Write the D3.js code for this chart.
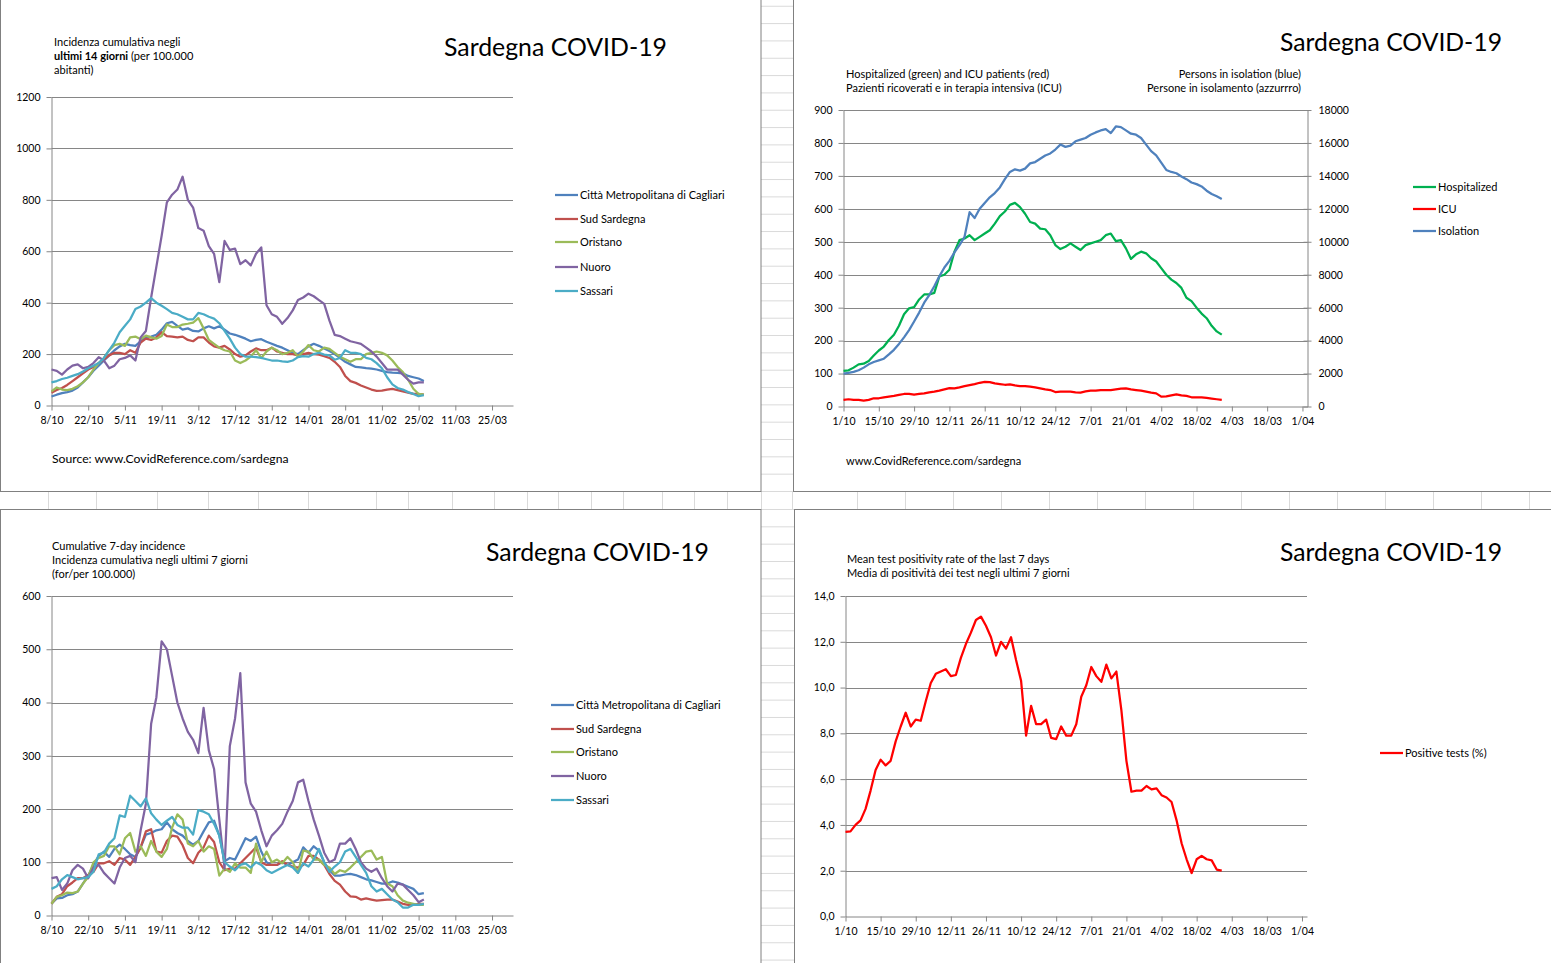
<!DOCTYPE html>
<html>
<head>
<meta charset="utf-8">
<script src="https://cdn.jsdelivr.net/npm/d3@7"></script>
<style>
  body { margin: 0; background: #fff; }
  svg { display: block; }
  text { font-family: Lato, "Open Sans", sans-serif; fill: #000; }
</style>
</head>
<body>
<svg id="main" width="1551" height="963"></svg>
<script>
// ---- data (every 2nd day) ----
var STEP = 2;
var startA = new Date(2020, 9, 8);   // 8/10 - incidence charts
var startB = new Date(2020, 9, 1);   // 1/10 - hospital / positivity charts

var ticksA = ["8/10","22/10","5/11","19/11","3/12","17/12","31/12","14/01","28/01","11/02","25/02","11/03","25/03"];
var ticksB = ["1/10","15/10","29/10","12/11","26/11","10/12","24/12","7/01","21/01","4/02","18/02","4/03","18/03","1/04"];

var provinces = ["Città Metropolitana di Cagliari", "Sud Sardegna", "Oristano", "Nuoro", "Sassari"];
var provColors = ["#4F81BD", "#C0504D", "#9BBB59", "#8064A2", "#4BACC6"];

// 14-day cumulative incidence per 100.000
var cagliari14 = [35,42,48,52,58,70,90,110,135,155, 175,195,215,230,240,235,232,250,265,268,
  275,295,320,325,310,295,300,290,288,300, 308,300,308,295,280,275,268,260,250,255,
  258,248,240,232,225,215,205,200,215,230, 240,232,222,212,200,185,170,160,150,148,
  145,143,140,135,130,128,127,125,115,110, 105,95];
var sud14 = [50,60,68,80,95,110,125,140,150,165, 180,195,205,205,200,215,205,245,260,255,
  265,285,270,268,265,268,255,250,265,265, 245,230,225,232,218,200,190,195,210,222,
  215,215,225,210,205,200,200,195,200,205, 200,198,192,185,170,150,115,95,88,78,
  70,62,57,58,62,65,60,55,50,45, 45,42];
var oristano14 = [55,70,62,60,65,75,90,110,140,165, 185,215,235,240,232,265,268,258,272,265,
  260,270,315,305,305,315,318,322,340,300, 255,240,225,215,210,175,165,175,190,215,
  185,210,225,215,200,205,215,190,210,235, 215,210,225,220,205,190,180,170,180,180,
  200,205,210,205,195,175,150,130,100,65, 45,42];
var nuoro14 = [140,135,120,140,155,160,145,150,165,188, 175,145,155,180,185,195,175,265,290,420,
  540,660,790,820,840,890,800,770,690,680, 620,590,480,640,605,610,550,565,545,590,
  615,390,355,345,318,340,370,410,420,435, 425,410,395,330,275,270,260,250,245,240,
  225,210,190,165,140,140,140,120,100,85, 90,90];
var sassari14 = [90,95,103,108,115,122,132,145,155,165, 185,215,245,285,310,335,375,385,400,418,
  400,388,375,360,355,345,335,335,360,355, 345,338,320,290,260,225,200,190,190,188,
  185,180,175,175,172,170,175,188,192,190, 200,205,198,195,178,185,215,205,205,200,
  185,180,165,145,110,82,68,62,52,45, 36,40];

// 7-day cumulative incidence per 100.000
var cagliari7 = [22,32,33,38,40,45,60,75,95,112, 120,110,125,133,125,115,110,128,152,155,
  160,162,175,162,155,150,140,133,140,158, 175,178,150,102,108,105,125,145,140,148,
  120,100,95,95,100,95,100,105,128,118, 130,122,100,85,75,75,77,78,76,72,
  68,66,63,60,60,64,62,58,54,50, 40,42];
var sud7 = [22,35,40,55,62,70,70,76,82,98, 98,102,95,108,105,95,110,128,158,162,
  120,118,140,150,148,132,108,98,118,128, 150,138,100,85,88,88,98,108,118,128,
  100,95,95,95,102,95,92,90,95,112, 112,105,95,78,65,58,45,36,35,30,
  32,30,28,29,30,30,26,22,20,20, 22,22];
var oristano7 = [22,35,38,43,42,45,60,72,100,108, 112,130,130,115,145,155,120,130,112,140,
  120,110,125,165,190,180,135,130,140,120, 130,125,75,88,82,98,90,90,80,135,
  100,120,100,105,98,110,100,80,122,120, 105,105,95,90,78,85,82,90,100,110,
  120,122,105,110,60,55,38,28,24,22, 20,20];
var nuoro7 = [70,72,48,60,85,95,88,70,90,95, 80,70,60,90,108,112,100,160,210,360,
  410,515,500,450,400,370,345,330,305,390, 310,275,180,88,318,370,455,250,210,195,
  160,130,150,160,172,195,215,250,255,215, 180,150,118,100,105,135,135,145,125,100,
  88,82,88,70,55,45,60,58,48,38, 25,30];
var sassari7 = [50,55,68,76,72,68,70,72,82,115, 118,135,145,188,185,225,215,205,220,192,
  180,170,178,185,170,165,165,152,198,195, 190,172,150,100,92,85,95,98,90,100,
  95,85,80,85,90,95,90,80,98,92, 105,125,100,82,92,100,120,125,110,95,
  80,55,45,50,40,30,25,15,15,20, 20,22];

// patients (left axis) and persons in isolation (right axis)
var hospitalized = [108,110,118,128,130,138,155,170,182,202, 218,245,280,298,302,325,340,340,345,395,
  400,415,470,505,510,520,505,515,525,535, 555,578,592,612,618,605,585,560,555,540,
  538,520,490,478,485,495,485,475,490,495, 500,505,520,525,502,505,480,448,462,470,
  465,450,440,420,400,385,375,360,330,320, 300,282,268,245,228,218];
var icu = [20,22,20,20,18,20,25,25,28,30, 32,35,38,38,36,38,40,43,45,48,
  52,56,55,58,62,65,68,72,75,74, 70,68,66,67,64,62,62,60,58,55,
  52,50,44,45,45,45,43,42,46,48, 48,50,50,50,52,54,55,52,50,48,
  45,42,40,30,31,34,37,34,32,28, 28,28,26,24,22,20];
var isolation = [2000,2040,2100,2200,2360,2560,2700,2800,2900,3160, 3440,3800,4200,4640,5160,5700,6300,6760,7300,7900,
  8440,8840,9360,9800,10300,11800,11440,12000,12360,12700, 12960,13300,13800,14240,14400,14320,14440,14760,14840,15040,
  15240,15360,15600,15900,15760,15840,16100,16200,16300,16500, 16640,16760,16840,16600,17000,16960,16760,16560,16500,16300,
  15900,15500,15240,14800,14360,14240,14160,13960,13800,13600, 13500,13360,13100,12900,12760,12600];

// mean test positivity of last 7 days (%)
var positivity = [3.7,3.72,4.0,4.2,4.7,5.5,6.4,6.85,6.6,6.8, 7.65,8.3,8.9,8.3,8.6,8.55,9.4,10.2,10.6,10.7,
  10.8,10.5,10.55,11.3,11.9,12.4,12.95,13.1,12.7,12.2, 11.4,12.0,11.7,12.2,11.2,10.3,7.9,9.2,8.4,8.4,
  8.6,7.8,7.75,8.3,7.9,7.9,8.4,9.6,10.1,10.9, 10.5,10.25,11.0,10.4,10.7,9.0,6.8,5.45,5.5,5.5,
  5.7,5.55,5.6,5.3,5.2,5.0,4.2,3.2,2.5,1.9, 2.5,2.65,2.5,2.45,2.05,2.0];

var svg = d3.select("#main");
var GRID = "#868686";

// ---- spreadsheet background between the charts ----
var cell = svg.append("g").attr("stroke", "#dadada").attr("stroke-width", 1);
for (var k = 0; k < 30; k++) {
  cell.append("line").attr("x1", 761).attr("x2", 793).attr("y1", 491.5 - k * 17.33).attr("y2", 491.5 - k * 17.33);
  cell.append("line").attr("x1", 761).attr("x2", 794).attr("y1", 509.5 + k * 17.33).attr("y2", 509.5 + k * 17.33);
}
[48,96,157,208,258,308,376,408,452,494,527,558,591,623,662,694,727,761,792,
 857,905,953,1001,1049,1097,1145,1193,1241,1289,1337,1385,1433,1481,1529].forEach(function (cx) {
  cell.append("line").attr("x1", cx + 0.5).attr("x2", cx + 0.5).attr("y1", 491).attr("y2", 509);
});

// chart frames
[[0.5, -5, 760.5, 496.5], [793.5, -5, 800, 496.5], [0.5, 509.5, 760.5, 500], [794.5, 509.5, 800, 500]]
  .forEach(function (p) {
    svg.append("rect").attr("x", p[0]).attr("y", p[1]).attr("width", p[2]).attr("height", p[3])
      .attr("fill", "#fff").attr("stroke", "#808080");
  });

function styleAxis(a) {
  a.attr("font-family", null).attr("font-size", null);
  a.select(".domain").attr("stroke", GRID);
  a.selectAll(".tick line").attr("stroke", GRID);
  a.selectAll("text").style("font-size", "10.5px");
}

function chart(c) {
  var g = svg.append("g");
  var x = d3.scaleTime().domain([c.start, d3.timeDay.offset(c.start, c.span)]).range([c.left, c.right]);
  var y = d3.scaleLinear().domain([0, c.ymax]).range([c.bottom, c.top]);

  g.selectAll(".grid").data(c.yTicks.filter(function (v) { return v > 0; }))
    .enter().append("line")
    .attr("x1", c.left).attr("x2", c.right)
    .attr("y1", function (d) { return Math.round(y(d)) + 0.5; })
    .attr("y2", function (d) { return Math.round(y(d)) + 0.5; })
    .attr("stroke", GRID);

  var ya = g.append("g").attr("transform", "translate(" + c.left + ",0)")
    .call(d3.axisLeft(y).tickValues(c.yTicks).tickSize(5).tickSizeOuter(0).tickPadding(6)
      .tickFormat(c.yFmt || d3.format("d")));
  styleAxis(ya);

  var tickDates = c.xLabels.map(function (_, i) { return d3.timeDay.offset(c.start, 14 * i); });
  var xa = g.append("g").attr("transform", "translate(0," + c.bottom + ")")
    .call(d3.axisBottom(x).tickValues(tickDates).tickSize(5).tickSizeOuter(0).tickPadding(6)
      .tickFormat(function (d, i) { return c.xLabels[i]; }));
  styleAxis(xa);

  return { g: g, x: x, y: y };
}

function series(ch, y, start, values, color) {
  ch.g.append("path").datum(values)
    .attr("fill", "none").attr("stroke", color).attr("stroke-width", 2.25)
    .attr("stroke-linejoin", "round")
    .attr("d", d3.line()
      .x(function (d, i) { return ch.x(d3.timeDay.offset(start, i * STEP)); })
      .y(function (d) { return y(d); }));
}

function legend(x0, ys, names, colors) {
  names.forEach(function (n, i) {
    svg.append("line").attr("x1", x0).attr("x2", x0 + 23).attr("y1", ys[i]).attr("y2", ys[i])
      .attr("stroke", colors[i]).attr("stroke-width", 2.25);
    svg.append("text").attr("x", x0 + 25).attr("y", ys[i] + 4).style("font-size", "11px").text(n);
  });
}

function title(x, y, w) {
  var t = svg.append("text").attr("x", x).attr("y", y).style("font-size", "26px").text("Sardegna COVID-19");
  var len = t.node().getComputedTextLength();
  t.style("font-size", (26 * w / len) + "px");
}

function lines(x, y0, rows, anchor) {
  rows.forEach(function (r, i) {
    var t = svg.append("text").attr("x", x).attr("y", y0 + i * 14).style("font-size", "11px")
      .attr("text-anchor", anchor || "start");
    r.forEach(function (part) {
      t.append("tspan").style("font-weight", part[1] ? "bold" : null).text(part[0]);
    });
  });
}

// ---- top left: 14-day incidence ----
var c1 = chart({ start: startA, span: 176, left: 51.5, right: 513, top: 97, bottom: 405.5,
  ymax: 1200, yTicks: d3.range(0, 1201, 200), xLabels: ticksA });
[cagliari14, sud14, oristano14, nuoro14, sassari14].forEach(function (s, i) {
  series(c1, c1.y, startA, s, provColors[i]);
});
title(444, 56, 223);
lines(54, 46, [[["Incidenza cumulativa negli"]], [["ultimi 14 giorni", true], [" (per 100.000"]], [["abitanti)"]]]);
legend(555, [195, 219, 242, 267, 291], provinces, provColors);
svg.append("text").attr("x", 52).attr("y", 463).style("font-size", "12.2px").text("Source: www.CovidReference.com/sardegna");

// ---- top right: hospitalized, ICU, isolation ----
var c2 = chart({ start: startB, span: 184, left: 843.5, right: 1307.5, top: 110, bottom: 406.5,
  ymax: 900, yTicks: d3.range(0, 901, 100), xLabels: ticksB });
var y2 = d3.scaleLinear().domain([0, 18000]).range([406.5, 110]);
var ra = c2.g.append("g").attr("transform", "translate(1307.5,0)")
  .call(d3.axisRight(y2).tickValues(d3.range(0, 18001, 2000)).tickSize(4).tickSizeOuter(0).tickPadding(7)
    .tickFormat(d3.format("d")));
styleAxis(ra);
ra.selectAll(".tick line").attr("x1", -4);
series(c2, c2.y, startB, hospitalized, "#00B050");
series(c2, c2.y, startB, icu, "#FF0000");
series(c2, y2, startB, isolation, "#4F81BD");
title(1280, 51, 222);
lines(846, 78, [[["Hospitalized (green) and ICU patients (red)"]], [["Pazienti ricoverati e in terapia intensiva (ICU)"]]]);
lines(1301, 78, [[["Persons in isolation (blue)"]], [["Persone in isolamento (azzurrro)"]]], "end");
legend(1413, [187, 209, 231], ["Hospitalized", "ICU", "Isolation"], ["#00B050", "#FF0000", "#4F81BD"]);
svg.append("text").attr("x", 846).attr("y", 465).style("font-size", "11px").text("www.CovidReference.com/sardegna");

// ---- bottom left: 7-day incidence ----
var c3 = chart({ start: startA, span: 176, left: 51.5, right: 513, top: 596, bottom: 915.5,
  ymax: 600, yTicks: d3.range(0, 601, 100), xLabels: ticksA });
[cagliari7, sud7, oristano7, nuoro7, sassari7].forEach(function (s, i) {
  series(c3, c3.y, startA, s, provColors[i]);
});
title(486, 561, 223);
lines(52, 550, [[["Cumulative 7-day incidence"]], [["Incidenza cumulativa negli ultimi 7 giorni"]], [["(for/per 100.000)"]]]);
legend(551, [705, 729, 752, 776, 800], provinces, provColors);

// ---- bottom right: test positivity ----
var c4 = chart({ start: startB, span: 184, left: 845.5, right: 1307, top: 596, bottom: 916.5,
  ymax: 14, yTicks: d3.range(0, 14.01, 2), xLabels: ticksB,
  yFmt: function (d) { return d.toFixed(1).replace(".", ","); } });
series(c4, c4.y, startB, positivity, "#FF0000");
title(1280, 561, 222);
lines(847, 563, [[["Mean test positivity rate of the last 7 days"]], [["Media di positività dei test negli ultimi 7 giorni"]]]);
legend(1380, [753], ["Positive tests (%)"], ["#FF0000"]);
</script>
</body>
</html>
